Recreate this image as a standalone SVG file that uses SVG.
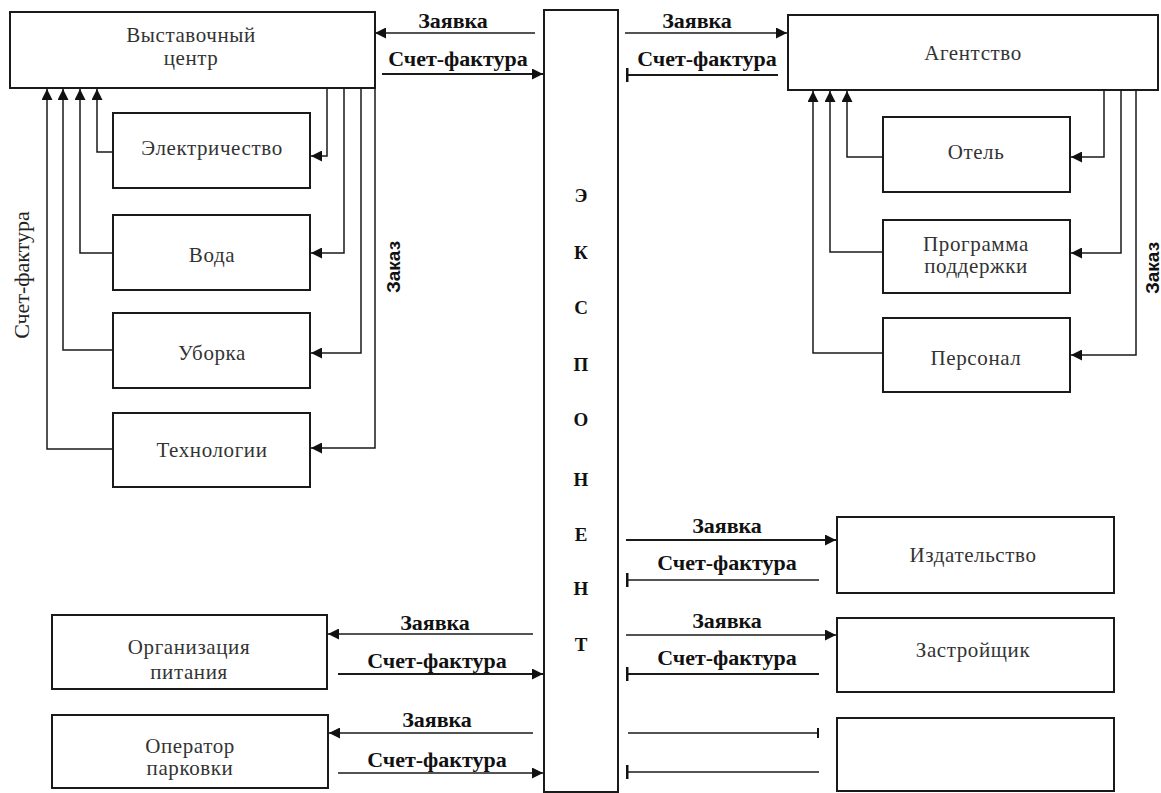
<svg xmlns="http://www.w3.org/2000/svg" width="1161" height="793" viewBox="0 0 1161 793" font-family="Liberation Serif, Times New Roman, serif">
<defs>
<style>
.box{fill:#fff;stroke:#1a1a1a;stroke-width:2}
.ln{fill:none;stroke:#1a1a1a;stroke-width:1.5}
.arr{marker-end:url(#ah)}
.tee{marker-end:url(#tee)}
.tick{marker-end:url(#tick)}
.nl{font-size:21px;fill:#333;text-anchor:middle;letter-spacing:0.6px}
.cl{font-size:22px;font-weight:bold;fill:#111;text-anchor:middle}
.ex{font-size:19px;font-weight:bold;fill:#111;text-anchor:middle}
.vl{font-size:22px;fill:#222;text-anchor:middle}
.zk{font-size:19px;font-weight:bold;fill:#111;text-anchor:middle}
</style>
<marker id="ah" viewBox="0 0 10 10" refX="10" refY="5" markerWidth="11" markerHeight="11" markerUnits="userSpaceOnUse" orient="auto"><path d="M0,0 L10,5 L0,10 z" fill="#111"/></marker>
<marker id="tee" viewBox="0 0 3 14" refX="1.5" refY="7" markerWidth="3" markerHeight="14" markerUnits="userSpaceOnUse" orient="auto"><rect x="0" y="0" width="3" height="14" fill="#111"/></marker>
<marker id="tick" viewBox="0 0 2 10" refX="1" refY="5" markerWidth="2" markerHeight="10" markerUnits="userSpaceOnUse" orient="auto"><rect x="0" y="0" width="2" height="10" fill="#111"/></marker>
</defs>
<rect width="1161" height="793" fill="#fff"/>

<g id="exponent">
<rect x="544" y="10" width="74" height="782" class="box"/>
<text class="ex" x="581" y="202">Э</text>
<text class="ex" x="581" y="259">К</text>
<text class="ex" x="581" y="314">С</text>
<text class="ex" x="581" y="371">П</text>
<text class="ex" x="581" y="426">О</text>
<text class="ex" x="581" y="486">Н</text>
<text class="ex" x="581" y="541">Е</text>
<text class="ex" x="581" y="595">Н</text>
<text class="ex" x="581" y="651">Т</text>
</g>

<g id="expo-center">
<rect x="10" y="12" width="365" height="76" class="box"/>
<text class="nl" x="191" y="42">Выставочный</text>
<text class="nl" x="191" y="65">центр</text>
</g>
<g id="electricity"><rect x="113" y="113" width="197" height="75" class="box"/><text class="nl" x="212" y="155">Электричество</text></g>
<g id="water"><rect x="113" y="215" width="197" height="75" class="box"/><text class="nl" x="212" y="262">Вода</text></g>
<g id="cleaning"><rect x="113" y="313" width="197" height="75" class="box"/><text class="nl" x="212" y="360">Уборка</text></g>
<g id="tech"><rect x="113" y="413" width="197" height="74" class="box"/><text class="nl" x="212" y="457">Технологии</text></g>

<g id="agency">
<rect x="788" y="15" width="370" height="75" class="box"/>
<text class="nl" x="973" y="60">Агентство</text>
</g>
<g id="hotel"><rect x="883" y="117" width="187" height="75" class="box"/><text class="nl" x="976" y="159">Отель</text></g>
<g id="support"><rect x="883" y="220" width="187" height="73" class="box"/><text class="nl" x="976" y="251">Программа</text><text class="nl" x="976" y="273">поддержки</text></g>
<g id="staff"><rect x="883" y="318" width="187" height="74" class="box"/><text class="nl" x="976" y="365">Персонал</text></g>

<g id="publisher"><rect x="837" y="517" width="277" height="76" class="box"/><text class="nl" x="973" y="562">Издательство</text></g>
<g id="builder"><rect x="837" y="618" width="277" height="74" class="box"/><text class="nl" x="973" y="657">Застройщик</text></g>
<g id="empty"><rect x="837" y="718" width="277" height="73" class="box"/></g>

<g id="catering"><rect x="52" y="615" width="275" height="74" class="box"/><text class="nl" x="189" y="654">Организация</text><text class="nl" x="189" y="679">питания</text></g>
<g id="parking"><rect x="52" y="715" width="276" height="73" class="box"/><text class="nl" x="190" y="753">Оператор</text><text class="nl" x="190" y="775">парковки</text></g>

<g id="connectors">
<path class="ln arr" d="M113,152 H97 V89"/>
<path class="ln arr" d="M113,253 H80 V89"/>
<path class="ln arr" d="M113,350 H63 V89"/>
<path class="ln arr" d="M113,449 H47 V89"/>
<path class="ln arr" d="M327,88 V156 H311"/>
<path class="ln arr" d="M344,88 V253 H311"/>
<path class="ln arr" d="M361,88 V353 H311"/>
<path class="ln arr" d="M375,88 V448 H311"/>

<path class="ln arr" d="M883,157 H847 V91"/>
<path class="ln arr" d="M883,252 H830 V91"/>
<path class="ln arr" d="M883,353 H813 V91"/>
<path class="ln arr" d="M1104,90 V157 H1071"/>
<path class="ln arr" d="M1121,90 V253 H1071"/>
<path class="ln arr" d="M1136,90 V355 H1071"/>

<path class="ln arr" d="M535,33 H375"/>
<path class="ln arr" d="M382,74 H543" style="stroke-width:2"/>
<path class="ln arr" d="M625,33 H787"/>
<path class="ln tee" d="M778,75 H627" style="stroke-width:2"/>

<path class="ln arr" d="M626,540 H836" style="stroke-width:2"/>
<path class="ln tee" d="M819,580 H627"/>
<path class="ln arr" d="M626,635 H836"/>
<path class="ln tee" d="M819,674 H627" style="stroke-width:2"/>
<path class="ln tick" d="M628,733 H818"/>
<path class="ln tee" d="M819,772 H627"/>

<path class="ln arr" d="M533,634 H328"/>
<path class="ln arr" d="M338,674 H543" style="stroke-width:2"/>
<path class="ln arr" d="M533,733 H329"/>
<path class="ln arr" d="M338,773 H543"/>
</g>

<g id="labels">
<text class="cl" x="453" y="28">Заявка</text>
<text class="cl" x="458" y="66">Счет-фактура</text>
<text class="cl" x="697" y="28">Заявка</text>
<text class="cl" x="707" y="66">Счет-фактура</text>
<text class="cl" x="727" y="533">Заявка</text>
<text class="cl" x="727" y="570">Счет-фактура</text>
<text class="cl" x="727" y="628">Заявка</text>
<text class="cl" x="727" y="665">Счет-фактура</text>
<text class="cl" x="435" y="630">Заявка</text>
<text class="cl" x="437" y="668">Счет-фактура</text>
<text class="cl" x="437" y="727">Заявка</text>
<text class="cl" x="437" y="767">Счет-фактура</text>
<text class="vl" transform="translate(29,275) rotate(-90)">Счет-фактура</text>
<text class="zk" font-family="Liberation Sans, Arial, sans-serif" transform="translate(400,267) rotate(-90)">Заказ</text>
<text class="zk" font-family="Liberation Sans, Arial, sans-serif" transform="translate(1159,268) rotate(-90)">Заказ</text>
</g>
</svg>
